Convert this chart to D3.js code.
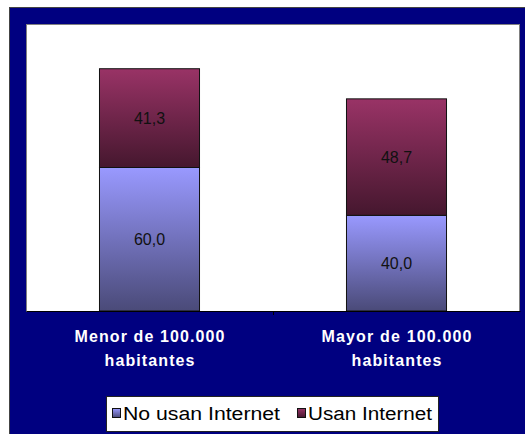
<!DOCTYPE html>
<html>
<head>
<meta charset="utf-8">
<script src="https://cdn.jsdelivr.net/npm/d3@7"></script>
<style>
  body { margin: 0; background: #fff; }
  svg { display: block; }
</style>
</head>
<body>
<div id="chart"></div>
<script>
// data
var categories = ["Menor de 100.000|habitantes", "Mayor de 100.000|habitantes"];
var seriesNames = ["No usan Internet", "Usan Internet"];
var noUsan = [60.0, 40.0];
var usan = [41.3, 48.7];

var W = 525, H = 434;
var margin = {top: 24, right: 5, bottom: 123, left: 26};
var width = W - margin.left - margin.right;
var height = H - margin.top - margin.bottom;

var svg = d3.select("#chart").append("svg").attr("width", W).attr("height", H);

// gradients (light at top, dark at bottom)
var defs = svg.append("defs");
var grads = [["gBlue", "#9999ff", "#4a4a78"], ["gRed", "#993366", "#45172e"]];
grads.forEach(g => {
    var lg = defs.append("linearGradient").attr("id", g[0]).attr("x1", 0).attr("y1", 0).attr("x2", 0).attr("y2", 1);
    lg.append("stop").attr("offset", "0%").attr("stop-color", g[1]);
    lg.append("stop").attr("offset", "100%").attr("stop-color", g[2]);
});

// outer navy frame
svg.append("rect").attr("x", 9.5).attr("y", 7.5).attr("width", 530).attr("height", 440)
    .attr("fill", "#000080").attr("stroke", "#444");

var g = svg.append("g").attr("transform", "translate(" + margin.left + "," + margin.top + ")");

// plot area
g.append("rect").attr("x", 0.5).attr("y", 0.5).attr("width", width - 1).attr("height", height)
    .attr("fill", "#fff").attr("stroke", "#808080");

var x = d3.scaleBand().domain(categories).range([0, width]).padding(0);
var y = d3.scaleLinear().domain([0, 120]).range([height, 0]);
var barW = x.bandwidth() * 0.405;

var rows = categories.map((c, i) => ({cat: c, v: [noUsan[i], usan[i]]}));
var stack = d3.stack().keys([0, 1]).value((d, k) => d.v[k])(rows);
var fills = ["url(#gBlue)", "url(#gRed)"];

stack.forEach((layer, k) => {
    var grp = g.append("g");
    grp.selectAll("rect").data(layer).join("rect")
        .attr("x", d => x(d.data.cat) + x.bandwidth() / 2 - barW / 2)
        .attr("y", d => y(d[1]))
        .attr("width", barW)
        .attr("height", d => y(d[0]) - y(d[1]))
        .attr("fill", fills[k])
        .attr("stroke", "#111").attr("stroke-width", 1);
    grp.selectAll("text").data(layer).join("text")
        .attr("x", d => x(d.data.cat) + x.bandwidth() / 2)
        .attr("y", d => (y(d[0]) + y(d[1])) / 2)
        .attr("dy", "0.36em")
        .attr("text-anchor", "middle")
        .style("font-family", "Liberation Sans, Arial, sans-serif")
        .style("font-size", "16px")
        .attr("fill", "#111")
        .text(d => d3.format(".1f")(d[1] - d[0]).replace(".", ","));
});

// x axis
var axis = g.append("g").attr("transform", "translate(0," + height + ")")
    .call(d3.axisBottom(x).tickSize(0).tickFormat(""));
axis.select(".domain").attr("stroke", "#000");
g.append("line").attr("x1", x(categories[1]) + 0.5).attr("x2", x(categories[1]) + 0.5)
    .attr("y1", height).attr("y2", height + 4).attr("stroke", "#000");

// category labels
categories.forEach(c => {
    var lines = c.split("|");
    var lens = [150, 90];
    lines.forEach((t, i) => {
        g.append("text")
            .attr("x", x(c) + x.bandwidth() / 2)
            .attr("y", height + 31 + i * 24)
            .attr("text-anchor", "middle")
            .attr("textLength", lens[i]).attr("lengthAdjust", "spacing")
            .style("font-family", "Liberation Sans, Arial, sans-serif")
            .style("font-size", "16px").style("font-weight", "bold")
            .attr("fill", "#fff")
            .text(t);
    });
});

// legend
var leg = svg.append("g");
leg.append("rect").attr("x", 106.5).attr("y", 396.5).attr("width", 332).attr("height", 35)
    .attr("fill", "#fff").attr("stroke", "#222");
var legItems = [{x: 112, tx: 123, len: 157}, {x: 297, tx: 308, len: 124}];
seriesNames.forEach((s, i) => {
    leg.append("rect").attr("x", legItems[i].x + 0.5).attr("y", 408.5).attr("width", 8).attr("height", 9)
        .attr("fill", fills[i]).attr("stroke", "#111");
    leg.append("text").attr("x", legItems[i].tx).attr("y", 419.5)
        .attr("textLength", legItems[i].len).attr("lengthAdjust", "spacingAndGlyphs")
        .style("font-family", "Liberation Sans, Arial, sans-serif")
        .style("font-size", "18px")
        .attr("fill", "#000")
        .text(s);
});
</script>
</body>
</html>
